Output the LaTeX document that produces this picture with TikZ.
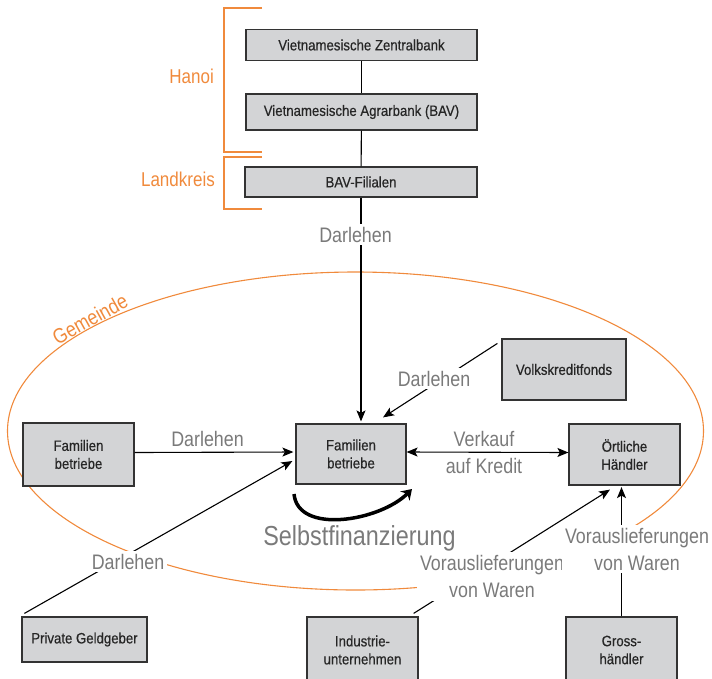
\documentclass[tikz,border=0pt]{standalone}
\usepackage{fontspec}
\setmainfont{Liberation Sans}
\newfontfamily\boxfont[FakeStretch=0.88,FakeBold=0.5]{Liberation Sans}
\newfontfamily\lblfont[FakeStretch=0.85]{Liberation Sans}
\usetikzlibrary{arrows.meta,calc}
\definecolor{boxfill}{HTML}{D3D4D6}
\definecolor{boxline}{HTML}{333333}
\definecolor{orng}{HTML}{F08A3C}
\definecolor{lblgrey}{HTML}{7A7A7A}
\definecolor{txtdark}{HTML}{262626}
\begin{document}
\begin{tikzpicture}[x=1pt,y=-1pt,
 box/.style={draw=boxline, line width=1.2pt, fill=boxfill, text=txtdark,
   font=\boxfont\fontsize{15}{18}\selectfont, align=center, inner sep=0pt},
 lbl/.style={text=lblgrey, font=\lblfont\fontsize{21}{27}\selectfont, align=center},
 wlbl/.style={lbl, fill=white, inner sep=3pt},
 conn/.style={line width=1.1pt, draw=black},
 arr/.style={conn, -{Stealth[length=11pt,width=9pt,inset=2.5pt]}},
 darr/.style={conn, {Stealth[length=11pt,width=9pt,inset=2.5pt]}-{Stealth[length=11pt,width=9pt,inset=2.5pt]}},
 olbl/.style={text=orng, font=\lblfont\fontsize{20}{24}\selectfont, inner sep=0pt},
 oline/.style={draw=orng, line width=1.1pt}
]
\useasboundingbox (0,0) rectangle (712,678);

% Gemeinde ellipse
\draw[oline] (355.5,431) ellipse [x radius=348, y radius=159];
\node[olbl, font=\lblfont\fontsize{21}{24}\selectfont, rotate=29] (gem) at (90,319) {Gemeinde};

% brackets
\draw[oline] (262,8) -- (224,8) -- (224,152) -- (262,152);
\draw[oline] (262,157) -- (224,157) -- (224,209) -- (262,209);
\node[olbl, anchor=base east] (hanoi) at (214,83) {Hanoi};
\node[olbl, anchor=base east] (lkr) at (215,186) {Landkreis};

% boxes
\node[box, minimum width=231, minimum height=31] (zb) at (361.5,45) {Vietnamesische Zentralbank};
\node[box, minimum width=231, minimum height=36] (ab) at (361.5,112) {Vietnamesische Agrarbank (BAV)};
\node[box, minimum width=232, minimum height=30] (fil) at (361,182) {BAV-Filialen};
\node[box, minimum width=124, minimum height=61] (vk) at (564,369.5) {Volkskreditfonds};
\node[box, minimum width=111, minimum height=63] (lf) at (78.5,454.5) {Familien\\betriebe};
\node[box, minimum width=110, minimum height=60] (cb) at (351,454) {Familien\\betriebe};
\node[box, minimum width=111, minimum height=61] (oh) at (624.5,454.5) {Örtliche\\Händler};
\node[box, minimum width=125, minimum height=45] (pg) at (84.5,639.5) {Private Geldgeber};
\node[box, minimum width=111, minimum height=66] (ind) at (362.5,650) {Industrie-\\unternehmen};
\node[box, minimum width=111, minimum height=66] (gh) at (621.5,650) {Gross-\\händler};

% helper coordinates
\coordinate (vkA) at ($(vk.north west)+(-4,5)$);
\coordinate (vkB) at ($(cb.north)+(32,-6)$);
\coordinate (pgA) at ($(pg.north west)+(3,-3)$);
\coordinate (pgB) at ($(cb.west)+(-3,7)$);
\coordinate (indA) at ($(ind.north east)+(-5,-3)$);
\coordinate (indB) at ($(oh.south)+(-14.5,4)$);
\coordinate (sfA) at (294,494);
\coordinate (sfB) at (412,489);

% connectors
\draw[conn] (zb) -- (ab);
\draw[conn] (ab) -- (fil);
\draw[arr, shorten >=2pt] (fil.south) -- (fil.south |- cb.north);
\draw[arr] (vkA) -- (vkB);
\draw[arr, shorten >=2pt] ([yshift=2pt]lf.east) -- ([yshift=2pt]cb.west);
\draw[darr] ([yshift=2pt]cb.east) -- ([yshift=2pt]oh.west);
\draw[arr] (pgA) -- (pgB);
\draw[arr] (indA) -- (indB);
\draw[arr, shorten >=1.5pt] (gh.north) -- (gh.north |- oh.south);
\draw[line width=3.5pt, -{Stealth[length=10pt,width=13pt]}]
  (sfA) .. controls (298,535) and (380,521) .. (sfB);

% labels
\node[wlbl, anchor=base] (d1) at (355.5,242) {Darlehen};
\node[wlbl, anchor=base] (d2) at (207.5,446) {Darlehen};
\node[wlbl, anchor=base] (d3) at (434,386) {Darlehen};
\node[wlbl, anchor=base] (d4) at (128,569) {Darlehen};
\node[lbl] (vkr) at (484,452) {Verkauf\\auf Kredit};
\node[wlbl] (vw1) at (492,576.4) {Vorauslieferungen\\von Waren};
\node[wlbl] (vw2) at (637,549) {Vorauslieferungen\\von Waren};
\node[text=lblgrey, font=\lblfont\fontsize{27.5}{30}\selectfont, anchor=base] (sf) at (359.5,545) {Selbstfinanzierung};
\end{tikzpicture}
\end{document}
